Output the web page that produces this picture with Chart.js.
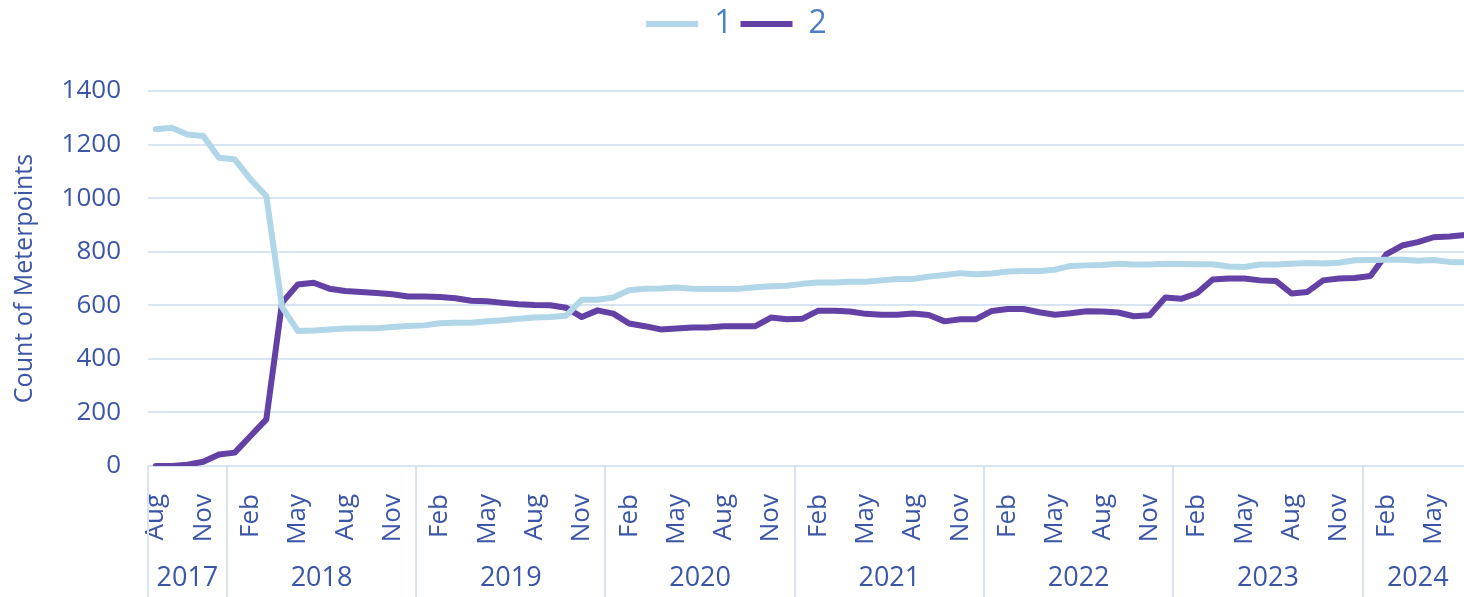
<!DOCTYPE html>
<html>
<head>
<meta charset="utf-8">
<title>Count of Meterpoints</title>
<script src="https://cdn.jsdelivr.net/npm/chart.js@4.4.1/dist/chart.umd.min.js"></script>
<style>
  html, body { margin: 0; padding: 0; background: #fff; overflow: hidden; }
  #wrap { position: relative; width: 1473px; height: 597px; }
</style>
</head>
<body>
<div id="wrap"><canvas id="chart"></canvas></div>
<script>
// === Data ===
const monthNames = ['Jan', 'Feb', 'Mar', 'Apr', 'May', 'Jun', 'Jul', 'Aug', 'Sep', 'Oct', 'Nov', 'Dec'];
const years = ['2017', '2018', '2019', '2020', '2021', '2022', '2023', '2024'];
const firstMonth = 7;   // Aug 2017
const lastMonth = 6;    // Jul 2024
const shownMonths = ['Feb', 'May', 'Aug', 'Nov'];

const series1 = [
  1257, 1263, 1238, 1232, 1151, 1145, 1070, 1008, 593, 504,
  506, 510, 513, 514, 514, 519, 523, 525, 533, 535,
  535, 540, 544, 550, 554, 556, 561, 621, 621, 629,
  656, 662, 663, 666, 662, 661, 661, 662, 667, 671,
  673, 680, 685, 685, 688, 688, 693, 698, 698, 707,
  713, 720, 716, 719, 726, 728, 728, 733, 747, 749,
  750, 755, 752, 752, 755, 754, 753, 753, 745, 743,
  752, 752, 755, 758, 756, 759, 768, 769, 770, 770,
  766, 769, 762, 761
];
const series2 = [
  0, 0, 5, 16, 43, 50, 112, 174, 610, 678,
  684, 662, 653, 650, 646, 641, 633, 633, 631, 626,
  617, 615, 609, 604, 601, 600, 591, 556, 581, 569,
  532, 522, 510, 513, 517, 517, 522, 522, 522, 554,
  548, 550, 580, 580, 577, 568, 565, 565, 569, 564,
  540, 548, 548, 579, 586, 586, 574, 565, 570, 578,
  577, 573, 559, 563, 629, 624, 645, 696, 700, 700,
  693, 691, 644, 650, 693, 700, 702, 709, 790, 823,
  836, 854, 857, 862
];

// month labels + year of each point
const labels = [];
const pointYears = [];
years.forEach((y, yi) => {
  const from = yi === 0 ? firstMonth : 0;
  const to = yi === years.length - 1 ? lastMonth : 11;
  for (let m = from; m <= to; m++) {
    labels.push(monthNames[m]);
    pointYears.push(y);
  }
});

const tickColor = '#3B56A6';
const gridColor = '#D8E4F2';
const font = 'Open Sans';

// === Year row under the month labels ===
const yearRow = {
  id: 'yearRow',
  beforeInit(chart) {
    const fit = chart.legend.fit;
    chart.legend.fit = function () {
      fit.call(this);
      this.height = 91;
    };
  },
  afterDraw(chart) {
    const x = chart.scales.x;
    const ctx = chart.ctx;
    const half = (x.getPixelForValue(1) - x.getPixelForValue(0)) / 2;
    const top = chart.chartArea.bottom;
    const bottom = chart.height;
    ctx.save();
    ctx.strokeStyle = gridColor;
    ctx.lineWidth = 2;
    ctx.fillStyle = tickColor;
    ctx.font = `27px "${font}"`;
    ctx.textAlign = 'center';
    ctx.textBaseline = 'middle';
    years.forEach(y => {
      const first = pointYears.indexOf(y);
      const last = pointYears.lastIndexOf(y);
      const left = x.getPixelForValue(first) - half;
      const right = x.getPixelForValue(last) + half;
      ctx.beginPath();
      ctx.moveTo(Math.round(left), top);
      ctx.lineTo(Math.round(left), bottom);
      ctx.stroke();
      ctx.fillText(y, (left + right) / 2, 578);
    });
    ctx.restore();
  }
};

new Chart(document.getElementById('chart'), {
  type: 'line',
  data: {
    labels: labels,
    datasets: [
      {
        label: '1',
        data: series1,
        borderColor: '#B0D6E8',
        backgroundColor: '#B0D6E8',
        borderWidth: 6,
        borderCapStyle: 'round',
        borderJoinStyle: 'round',
        pointRadius: 0,
        tension: 0
      },
      {
        label: '2',
        data: series2,
        borderColor: '#6441A5',
        backgroundColor: '#6441A5',
        borderWidth: 6,
        borderCapStyle: 'round',
        borderJoinStyle: 'round',
        pointRadius: 0,
        tension: 0
      }
    ]
  },
  options: {
    responsive: true,
    maintainAspectRatio: false,
    animation: false,
    layout: { padding: 0 },
    plugins: {
      tooltip: { enabled: false },
      legend: {
        position: 'top',
        labels: {
          usePointStyle: true,
          pointStyle: 'line',
          pointStyleWidth: 52,
          padding: 8,
          color: '#4C7FC4',
          font: { family: font, size: 32 }
        }
      }
    },
    scales: {
      x: {
        offset: true,
        grid: { display: false },
        border: { display: true, color: gridColor, width: 2 },
        ticks: {
          autoSkip: false,
          minRotation: 90,
          maxRotation: 90,
          padding: 20,
          color: tickColor,
          font: { family: font, size: 26 },
          callback: (v, i) => shownMonths.includes(labels[i]) ? labels[i] : ''
        },
        afterFit(scale) {
          scale.height = 131;
          scale.paddingLeft = 0;
          scale.paddingRight = 0;
        }
      },
      y: {
        min: 0,
        max: 1400,
        grid: { color: gridColor, lineWidth: 2, drawTicks: false },
        border: { display: false },
        ticks: {
          stepSize: 200,
          padding: 27,
          color: tickColor,
          font: { family: font, size: 26 },
          callback: v => String(v)
        },
        title: {
          display: true,
          text: 'Count of Meterpoints',
          color: tickColor,
          padding: { top: 10, bottom: 0 },
          font: { family: font, size: 25 }
        },
        afterFit(scale) {
          scale.width = 148;
        }
      }
    }
  },
  plugins: [yearRow]
});
</script>
</body>
</html>
